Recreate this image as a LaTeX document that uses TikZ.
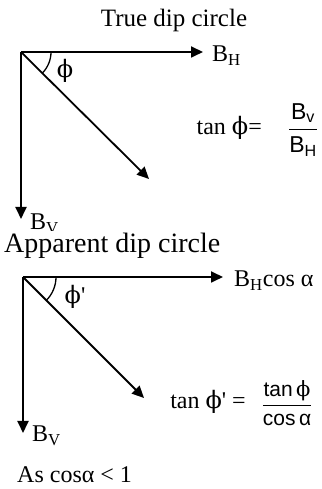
\documentclass[tikz,border=0pt]{standalone}
\usepackage{amsmath}
\usepackage{fontspec}
\setmainfont{Liberation Serif}
\setsansfont{Liberation Sans}
\newfontfamily\phifont{DejaVu Serif}
\usetikzlibrary{arrows.meta}
\newcommand{\ph}{{\phifont ϕ}}
\tikzset{
  vec/.style={-{Triangle[length=12pt,width=11pt]}, line width=1.8pt},
  ang/.style={line width=1.3pt},
  lbl/.style={font=\fontsize{24}{28}\selectfont, inner sep=1pt},
  ttl/.style={font=\fontsize{25}{29}\selectfont, inner sep=2pt, fill=white},
  frac/.style={font=\sffamily\fontsize{21}{25}\selectfont, inner sep=0pt}
}

\begin{document}
\begin{tikzpicture}[x=1pt,y=1pt]
  \useasboundingbox (0,0) rectangle (321,489);

  % true dip circle
  \coordinate (O1) at (21,437);
  \coordinate (H1) at (203,437);
  \coordinate (V1) at (21,270);
  \coordinate (R1) at (149,310);
  \draw[vec] (O1) -- (H1);
  \draw[vec] (O1) -- (V1);
  \draw[vec] (O1) -- (R1);
  \draw[ang] ([xshift=30pt]O1) arc (0:-45:30);
  \node[lbl] (phi1) at (65,418) {\ph};
  \node[lbl, anchor=west] (BH1) at (211,433) {B\textsubscript{H}};
  \node[lbl, anchor=west] (BV1) at (29,265) {B\textsubscript{V}};
  \node[lbl, anchor=east] (tan1) at (263,361) {tan \ph=};
  \node[frac, font=\sffamily\fontsize{23}{27}\selectfont] (frac1) at (303,359)
    {$\dfrac{\text{B\textsubscript{v}}}{\text{B\textsubscript{H}}}$};
  \node[ttl] (title1) at (174,469) {True dip circle};

  % apparent dip circle
  \coordinate (O2) at (23,212);
  \coordinate (H2) at (223,212);
  \coordinate (V2) at (23,56);
  \coordinate (R2) at (144,91);
  \draw[vec] (O2) -- (H2);
  \draw[vec] (O2) -- (V2);
  \draw[vec] (O2) -- (R2);
  \draw[ang] ([xshift=33pt]O2) arc (0:-45:33);
  \node[lbl] (phi2) at (75,192) {\ph\textquotesingle};
  \node[lbl, anchor=west] (BH2) at (233,208) {B\textsubscript{H}cos α};
  \node[lbl, anchor=west] (BV2) at (31,53) {B\textsubscript{V}};
  \node[lbl, anchor=east] (tan2) at (247,87) {tan \ph\textquotesingle{} =};
  \node[frac] (frac2) at (287,86)
    {$\dfrac{\text{tan\,\ph}}{\text{cos\,α}}$};
  \node[ttl, anchor=west, font=\fontsize{28}{32}\selectfont] (title2) at (2,243) {Apparent dip circle};
  \node[lbl, anchor=west] (note) at (16,14) {As cosα < 1};
\end{tikzpicture}
\end{document}
